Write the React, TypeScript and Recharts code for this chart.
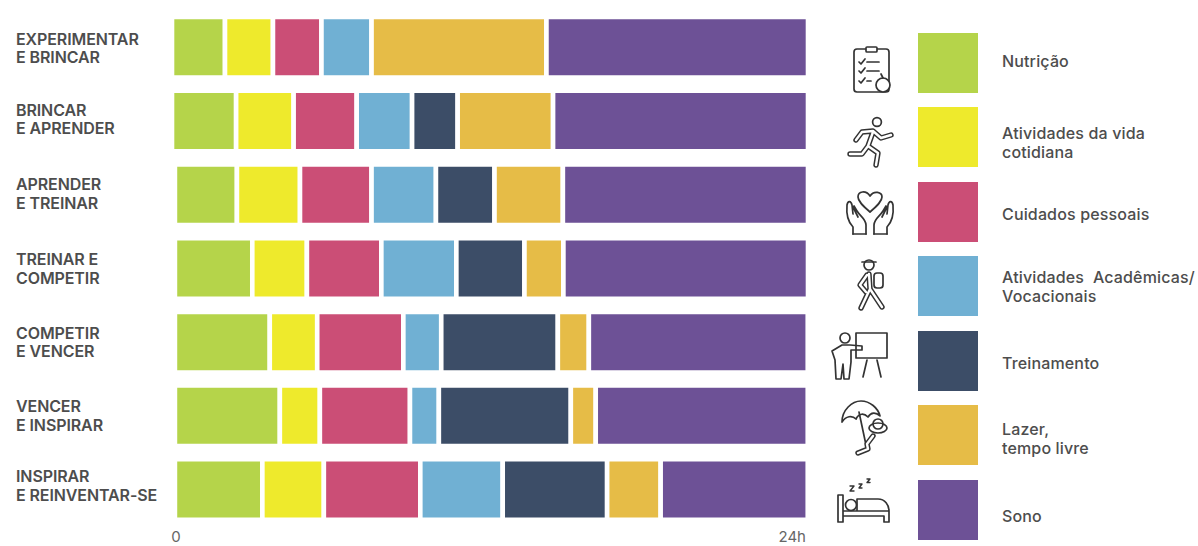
import { BarChart, Bar, XAxis, YAxis, Legend } from "recharts";

const categories = [
    "EXPERIMENTAR\nE BRINCAR",
    "BRINCAR\nE APRENDER",
    "APRENDER\nE TREINAR",
    "TREINAR E\nCOMPETIR",
    "COMPETIR\nE VENCER",
    "VENCER\nE INSPIRAR",
    "INSPIRAR\nE REINVENTAR-SE",
];

// the first two rows start a little further left in the original
const inicio = [0, 0, 0.11, 0.11, 0.11, 0.11, 0.11];
const nutricao = [2.0, 2.42, 2.34, 2.92, 3.58, 3.96, 3.3];
const cotidiana = [1.81, 2.17, 2.38, 2.06, 1.79, 1.51, 2.32];
const cuidados = [1.83, 2.38, 2.7, 2.81, 3.25, 3.4, 3.64];
const academicas = [1.89, 2.09, 2.43, 2.83, 1.43, 1.09, 3.11];
const treinamento = [0, 1.72, 2.21, 2.57, 4.4, 4.98, 3.94];
const lazer = [6.6, 3.6, 2.58, 1.47, 1.17, 0.94, 2.02];
const sono = [9.87, 9.62, 9.25, 9.23, 8.26, 8.0, 5.55];

const seriesNames = [
    "Nutrição",
    "Atividades da vida\ncotidiana",
    "Cuidados pessoais",
    "Atividades  Acadêmicas/\nVocacionais",
    "Treinamento",
    "Lazer,\ntempo livre",
    "Sono",
];
const seriesKeys = ["nutricao", "cotidiana", "cuidados", "academicas", "treinamento", "lazer", "sono"];
const seriesValues = [nutricao, cotidiana, cuidados, academicas, treinamento, lazer, sono];
const seriesColors = ["#b5d44a", "#eeea2c", "#cb4e76", "#70b0d3", "#3c4d67", "#e6bc47", "#6d5196"];

const data = categories.map((name, i) => {
    const row: Record<string, string | number> = { name, inicio: inicio[i] };
    seriesKeys.forEach((key, s) => {
        row[key] = seriesValues[s][i];
    });
    return row;
});

const textColor = "#4d4d4d";
const fontFamily = "Inter, 'Open Sans', sans-serif";

const swatchTops = [33, 107, 182, 256, 331, 405, 480];
const labelCenters = [61, 142, 214, 286, 363, 438, 516];
// row labels are not set evenly in the original
const labelNudge = [2, -1, 0, 1, 1, 1, -3];

function CategoryTick({ y, payload, index }: any) {
    const lines = String(payload.value).split("\n");
    return (
        <text x={16} y={y - 4 + labelNudge[index]} fill={textColor} fontFamily={fontFamily} fontSize={16} fontWeight={600} letterSpacing={-0.1}>
            {lines.map((line, i) => (
                <tspan key={i} x={16} dy={i === 0 ? 0 : 18.5}>{line}</tspan>
            ))}
        </text>
    );
}

function HourTick({ x, payload }: any) {
    const first = payload.value === 0;
    return (
        <text x={first ? x + 4 : x - 2} y={542} textAnchor={first ? "middle" : "end"} fill="#666" fontFamily={fontFamily} fontSize={15}>
            {first ? "0" : "24h"}
        </text>
    );
}

// icons are drawn as a thick dark line with a thin white one on top, which gives the hollow look
function Hollow({ d }: { d: string }) {
    return (
        <g strokeLinecap="round" strokeLinejoin="round" fill="none">
            <path d={d} stroke="#333" strokeWidth={5.4} />
            <path d={d} stroke="#fff" strokeWidth={2.4} />
        </g>
    );
}

function Icons() {
    return (
        <svg width={1198} height={546} style={{ position: "absolute", left: 0, top: 0 }} fill="none" stroke="#333" strokeWidth={1.7} strokeLinecap="round" strokeLinejoin="round">
            {/* clipboard */}
            <rect x={854} y={49} width={35} height={43} rx={3} />
            <rect x={866} y={47} width={11} height={5} rx={1} fill="#fff" />
            <path d="M859 62l2 2 4-5M867 62h12M859 71l2 2 4-5M867 71h12M859 81l2 2 4-5M867 81h4" />
            <circle cx={883} cy={85} r={7} fill="#fff" />
            <path d="M883 78l-2-4" />

            {/* runner */}
            <circle cx={877} cy={122} r={4.4} />
            <Hollow d="M856 140l6-8 11-1 8 7 10-3M873 132l-5 14M868 146l-6 8-12 0M868 146l10 7-2 12" />

            {/* hands and heart */}
            <path d="M870 212C862 205 858 201 858 197C858 191 866 190 870 196C874 190 882 192 882 197C882 201 878 205 870 212Z" />
            <g>
                <path d="M866 234V225C866 219 860 216 857 211L854 206M853 234V227C848 222 846 216 847 205C848 200 851 201 852 205L853 214M858 217L853 207" />
                <path d="M853 234H866" />
            </g>
            <g transform="translate(1740 0) scale(-1 1)">
                <path d="M866 234V225C866 219 860 216 857 211L854 206M853 234V227C848 222 846 216 847 205C848 200 851 201 852 205L853 214M858 217L853 207" />
                <path d="M853 234H866" />
            </g>

            {/* hiker */}
            <circle cx={869} cy={265} r={5} />
            <path d="M862 262h14" />
            <rect x={874} y={273} width={9} height={15} rx={3} />
            <Hollow d="M869 274l1 15M870 289l-9 19M870 289l12 18M867 275l-7 10 6 7" />

            {/* trainer */}
            <circle cx={845} cy={338} r={5} />
            <rect x={856} y={333} width={31} height={25} />
            <path d="M867 360l-4 17M877 360l4 17" />
            <path d="M842 345H850L862 346V350H851V362L849 379H844L843 364L841 379H836L835 360L832 351Z" />

            {/* umbrella */}
            <path d="M842 422C842 410 852 401 861 401C870 401 878 408 880 416C876 412 871 412 868 417C864 413 859 413 856 419C852 415 846 416 842 422Z" />
            <path d="M859 412l7 33" />
            <circle cx={878} cy={424} r={5} />
            <ellipse cx={878} cy={428} rx={9} ry={5} />
            <Hollow d="M873 436L867 444L868 449L858 453" />

            {/* bed */}
            <path d="M838 495V522M843 495V522M838 495H843M838 522H843M843 511H889V522H884V516H843M857 499H878C885 499 889 505 889 511M857 499V511" />
            <circle cx={851} cy={505} r={5.5} />
            <path d="M850 486h4l-4 5h4M859 484h3l-3 4h3M867 479h3l-3 3.5h3" strokeWidth={1.4} />
        </svg>
    );
}

function SideLegend({ payload }: any) {
    const items = (payload || []).filter((item: any) => item.dataKey !== "inicio");
    return (
        <div style={{ position: "absolute", left: 0, top: 0, width: 1198, height: 546 }}>
            <Icons />
            {items.map((item: any, i: number) => (
                <div key={item.value}>
                    <div style={{ position: "absolute", left: 918, top: swatchTops[i], width: 60, height: 60, background: item.color }} />
                    <div
                        style={{
                            position: "absolute",
                            left: 1002,
                            top: labelCenters[i],
                            transform: "translateY(-50%)",
                            whiteSpace: "pre",
                            color: textColor,
                            fontFamily,
                            fontSize: 16,
                            fontWeight: 500,
                            letterSpacing: 0.15,
                            lineHeight: "18.5px",
                        }}
                    >
                        {item.value}
                    </div>
                </div>
            ))}
        </div>
    );
}

export default function App() {
    return (
        <div style={{ position: "fixed", left: 0, top: 0, width: 1198, height: 546, overflow: "hidden", background: "#fff" }}>
            <BarChart
                width={1198}
                height={546}
                data={data}
                layout="vertical"
                margin={{ top: 10, right: 390, bottom: 0, left: 0 }}
            >
                <XAxis
                    type="number"
                    domain={[0, 24]}
                    ticks={[0, 24]}
                    allowDataOverflow
                    axisLine={false}
                    tickLine={false}
                    height={20}
                    tick={<HourTick />}
                />
                <YAxis
                    type="category"
                    dataKey="name"
                    width={172}
                    axisLine={false}
                    tickLine={false}
                    interval={0}
                    tick={<CategoryTick />}
                />
                <Legend
                    layout="vertical"
                    align="center"
                    verticalAlign="middle"
                    itemSorter={null}
                    wrapperStyle={{ position: "absolute", left: 0, top: 0, width: 0, height: 0 }}
                    content={<SideLegend />}
                />
                <Bar dataKey="inicio" stackId="dia" fill="none" barSize={60.6} legendType="none" isAnimationActive={false} />
                {seriesKeys.map((key, s) => (
                    <Bar
                        key={key}
                        dataKey={key}
                        name={seriesNames[s]}
                        stackId="dia"
                        fill={seriesColors[s]}
                        stroke="#fff"
                        strokeWidth={4.6}
                        barSize={60.6}
                        isAnimationActive={false}
                    />
                ))}
            </BarChart>
        </div>
    );
}
